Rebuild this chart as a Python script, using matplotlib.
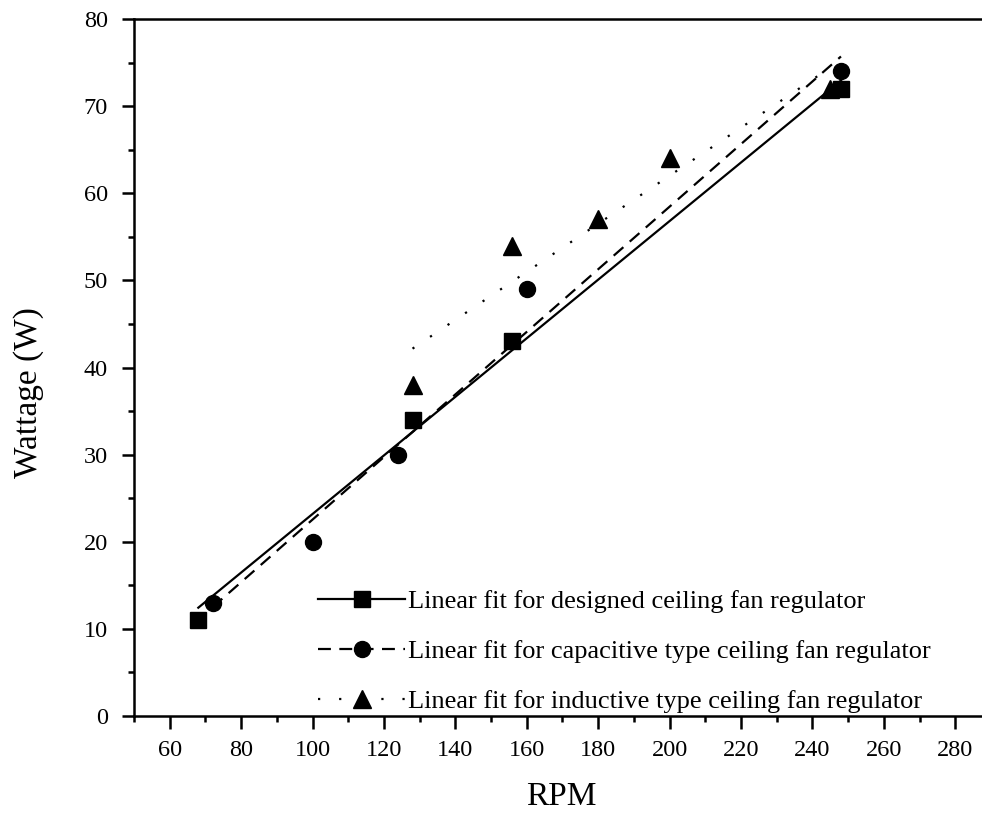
import numpy as np
import matplotlib
matplotlib.use('Agg')
import matplotlib.pyplot as plt
from matplotlib.ticker import MultipleLocator

plt.rcParams['font.family'] = ['Liberation Serif', 'DejaVu Serif']

# designed regulator
rpm_designed = [68, 128, 156, 248]
watt_designed = [11, 34, 43, 72]
# capacitive regulator
rpm_capacitive = [72, 100, 124, 160, 248]
watt_capacitive = [13, 20, 30, 49, 74]
# inductive regulator
rpm_inductive = [128, 156, 180, 200, 245]
watt_inductive = [38, 54, 57, 64, 72]

labels = ['Linear fit for designed ceiling fan regulator',
          'Linear fit for capacitive type ceiling fan regulator',
          'Linear fit for inductive type ceiling fan regulator']

fig = plt.figure(figsize=(9.82, 8.13), dpi=100)
ax = fig.add_axes([0.1365, 0.1193, 0.8635, 0.8573])

series = [
    (rpm_designed, watt_designed, 's', '-', 11.5),
    (rpm_capacitive, watt_capacitive, 'o', (0, (5.8, 3.8)), 11.5),
    (rpm_inductive, watt_inductive, '^', (0, (1, 8.5)), 12.5),
]

handles = []
for (x, y, mk, ls, ms), lab in zip(series, labels):
    x = np.array(x, dtype=float)
    y = np.array(y, dtype=float)
    ax.plot(x, y, linestyle='none', marker=mk, color='black', markersize=ms)
    # least squares fit line over the data range
    k, b = np.polyfit(x, y, 1)
    xs = np.array([x.min(), x.max()])
    ax.plot(xs, k * xs + b, color='black', linestyle=ls, linewidth=1.6)
    h, = ax.plot([], [], color='black', linestyle=ls, linewidth=1.6,
                 marker=mk, markersize=ms)
    handles.append(h)

ax.set_xlim(50, 287.5)
ax.set_ylim(0, 80)
ax.xaxis.set_minor_locator(MultipleLocator(10))
ax.yaxis.set_major_locator(MultipleLocator(10))
ax.yaxis.set_minor_locator(MultipleLocator(5))
ax.set_xticks(range(60, 281, 20))

ax.tick_params(which='major', direction='out', length=9, width=1.8,
               labelsize=17.5)
ax.tick_params(axis='x', which='major', pad=8.5)
ax.tick_params(axis='y', which='major', pad=10)
ax.tick_params(which='minor', direction='out', length=4.5, width=1.8)
ax.spines['right'].set_visible(False)
for s in ['left', 'bottom', 'top']:
    ax.spines[s].set_linewidth(1.8)

ax.set_xlabel('RPM', fontsize=24, va='baseline')
ax.xaxis.set_label_coords(0.5035, -0.128)
ax.set_ylabel('Wattage (W)', fontsize=24, va='center', ha='center')
ax.yaxis.set_label_coords(-0.1244, 0.4634)

ax.legend(handles, labels, loc='lower left', bbox_to_anchor=(0.217, 0.004),
          frameon=False, fontsize=19, handlelength=3.3, handletextpad=0.12,
          labelspacing=1.0, borderpad=0, borderaxespad=0)

fig.savefig('out.png', dpi=100)
